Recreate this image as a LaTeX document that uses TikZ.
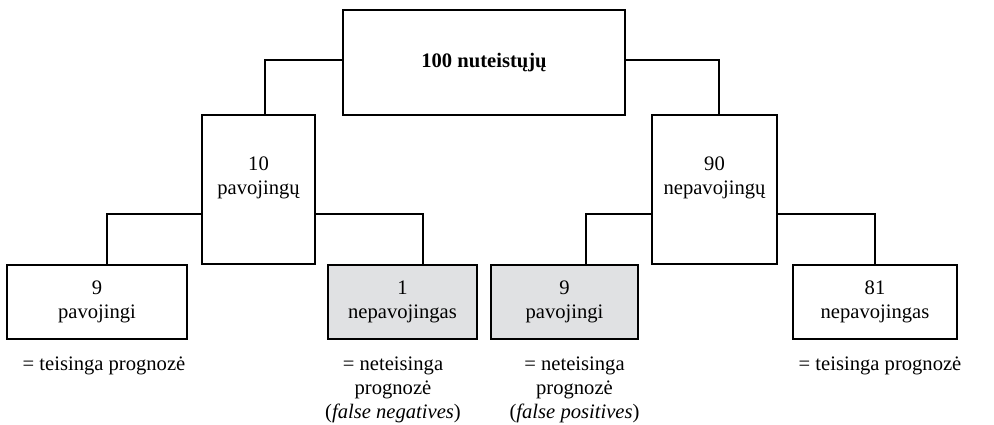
\documentclass[tikz,border=0pt]{standalone}
\usepackage{fontspec}
\setmainfont{Liberation Serif}
\usetikzlibrary{positioning}

\definecolor{wronggray}{RGB}{224,225,227}

\begin{document}
\begin{tikzpicture}[
  x=0.5pt, y=-0.5pt,
  font=\fontsize{10.3}{12}\selectfont,
  box/.style={draw, line width=1pt, inner sep=0pt, align=center, minimum height=37pt},
  midbox/.style={box, minimum height=74.5pt},
  wrong/.style={box, fill=wronggray},
  note/.style={align=center, inner sep=0pt, anchor=north},
  link/.style={line width=1pt}
]
\useasboundingbox (0,0) rectangle (994,424);

\node[box, minimum width=141pt, minimum height=52.5pt, font=\fontsize{10.3}{12}\selectfont\bfseries] (total) at (484,62.5) {100 nuteistųjų};

\node[midbox, minimum width=56.5pt, label={[yshift=6pt, align=center]center:{10\\pavojingų}}] (danger) at (258.5,189.5) {};
\node[midbox, minimum width=62.5pt, label={[yshift=6pt, align=center]center:{90\\nepavojingų}}] (safe) at (714.5,189.5) {};

\node[box, minimum width=90pt] (tp) at (97,302) {9\\pavojingi};
\node[wrong, minimum width=74.5pt] (fn) at (402.5,302) {1\\nepavojingas};
\node[wrong, minimum width=73.5pt] (fp) at (564.5,302) {9\\pavojingi};
\node[box, minimum width=82pt] (tn) at (875,302) {81\\nepavojingas};

\node[note, below=8pt of tp, xshift=3.5pt] (tpnote) {= teisinga prognozė};
\node[note, below=8pt of fn, xshift=-4.75pt] (fnnote) {= neteisinga\\prognozė\\(\textit{false negatives})};
\node[note, below=8pt of fp, xshift=5pt] (fpnote) {= neteisinga\\prognozė\\(\textit{false positives})};
\node[note, below=8pt of tn, xshift=2.5pt] (tnnote) {= teisinga prognozė};

% tree lines
\draw[link] ([yshift=1.25pt]total.west) -| ([xshift=3.25pt]danger.north);
\draw[link] ([yshift=1.25pt]total.east) -| ([xshift=2.25pt]safe.north);

\draw[link] ([yshift=-12.25pt]danger.west) -| ([xshift=5pt]tp.north);
\draw[link] ([yshift=-12.25pt]danger.east) -| ([xshift=10.25pt]fn.north);
\draw[link] ([yshift=-12.25pt]safe.west) -| ([xshift=10.75pt]fp.north);
\draw[link] ([yshift=-12.25pt]safe.east) -| (tn.north);
\end{tikzpicture}
\end{document}
